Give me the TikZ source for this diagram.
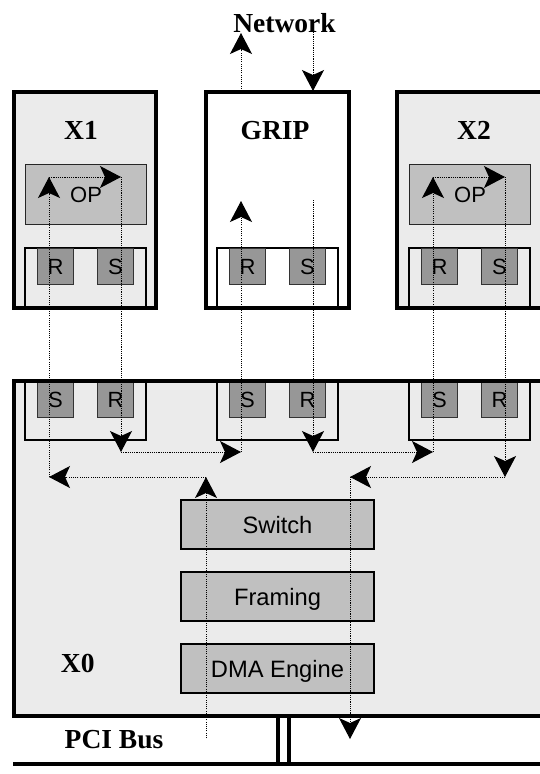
\documentclass[tikz,border=0pt]{standalone}
\usepackage{fontspec}
\setmainfont{Liberation Serif}
\newfontfamily\sansfont{Liberation Sans}
\usetikzlibrary{arrows.meta}

\definecolor{modfill}{HTML}{EBEBEB}
\definecolor{unitfill}{HTML}{C0C0C0}
\definecolor{portfill}{HTML}{979797}

\tikzset{
  module/.style={fill=#1, draw=none, inner sep=0pt, outer sep=0pt},
  modframe/.style={draw=black, line width=4pt},
  holder/.style={draw=black, line width=1.2pt},
  unit/.style={draw=black, line width=1.2pt, fill=unitfill, inner sep=0pt,
    minimum width=193pt, minimum height=49pt,
    font=\sansfont\fontsize{23.7}{24}\selectfont, text height=17pt, text depth=0pt},
  opbox/.style={draw=black!85, line width=1.2pt, fill=unitfill, inner sep=0pt,
    minimum width=121pt, minimum height=60pt, anchor=north west,
    font=\sansfont\fontsize{22}{22}\selectfont, text height=15.8pt, text depth=0pt},
  port/.style={draw=black!80, line width=1pt, fill=portfill, inner sep=0pt,
    minimum size=36pt, anchor=north west,
    font=\sansfont\fontsize{22}{22}\selectfont, text height=15.8pt, text depth=0pt},
  title/.style={font=\bfseries\fontsize{27.5}{28}\selectfont, inner sep=0pt, anchor=base},
  flowtip/.tip={Stealth[length=21pt 0 0, width=22pt 0 0, inset=5pt 0 0]},
  flow/.style={line width=1pt, dash pattern=on 1.1pt off 1.1pt, -flowtip},
  busline/.style={draw=black, line width=4pt},
}

\begin{document}
\begin{tikzpicture}[x=1pt,y=-1pt]
\useasboundingbox (0,0) rectangle (540,774);
\clip (0,0) rectangle (540,774);

% ---------- module bodies ----------
\node[module=modfill, minimum width=142pt, minimum height=216pt] (x1)   at (85,200) {};
\node[module=white,   minimum width=143pt, minimum height=216pt] (grip) at (277.5,200) {};
\node[module=modfill, minimum width=148pt, minimum height=216pt] (x2)   at (471,200) {};
\node[module=modfill, minimum width=548pt, minimum height=335pt] (x0)   at (288,548.5) {};

% ---------- port holders ----------
\foreach \hx in {25,217,409}{
  \draw[holder] (\hx,308) -- (\hx,248) -- (\hx+121,248) -- (\hx+121,308);
  \draw[holder] (\hx,381) -- (\hx,440) -- (\hx+121,440) -- (\hx+121,381);
}

% ---------- operator boxes ----------
\node[opbox] (op1) at (25,164) {OP};
\node[opbox] (op2) at (409,164) {OP};

% ---------- receive / send ports on the cards ----------
\node[port] (x1r) at (37,248)  {R};
\node[port] (x1s) at (97,248)  {S};
\node[port] (gr)  at (229,248) {R};
\node[port] (gs)  at (289,248) {S};
\node[port] (x2r) at (421,248) {R};
\node[port] (x2s) at (481,248) {S};

% ---------- ports on the base card ----------
\node[port] (a1s) at (37,381)  {S};
\node[port] (a1r) at (97,381)  {R};
\node[port] (a2s) at (229,381) {S};
\node[port] (a2r) at (289,381) {R};
\node[port] (a3s) at (421,381) {S};
\node[port] (a3r) at (481,381) {R};

% ---------- pipeline units ----------
\node[unit] (switch)  at (277.5,524.5) {Switch};
\node[unit] (framing) at (277.5,596.5) {Framing};
\node[unit] (dma)     at (277.5,668.5) {DMA Engine};

% ---------- module frames ----------
\draw[modframe] (x1.north west) rectangle (x1.south east);
\draw[modframe] (grip.north west) rectangle (grip.south east);
\draw[modframe] (x2.north west) rectangle (x2.south east);
\draw[modframe] (x0.north west) rectangle (x0.south east);

% ---------- PCI bus ----------
\coordinate (busL) at (13,764);
\coordinate (busR) at (550,764);
\coordinate (tapA) at (278,716);
\coordinate (tapB) at (289.3,716);
\draw[busline] (tapA) -- (tapA |- busL);
\draw[busline] (tapB) -- (tapB |- busL);
\draw[busline] (busL) -- (busR);

% ---------- titles ----------
\node[title] (tnet)  at (284.5,32) {Network};
\node[title] (tx1)   at (81,139)   {X1};
\node[title] (tgrip) at (275,139)  {GRIP};
\node[title] (tx2)   at (474,139)  {X2};
\node[title] (tx0)   at (77.7,672) {X0};
\node[title] (tpci)  at (114,748)  {PCI Bus};

% ---------- data path points ----------
\coordinate (netOut)  at (241,33);
\coordinate (gripTop) at (241,91);
\coordinate (netSrc)  at (313,32);
\coordinate (netIn)   at (313,91);
\coordinate (gSend)   at (313,200);
\coordinate (gRecv)   at (241,201);
\coordinate (j1) at (313,452);
\coordinate (j2) at (433,452);
\coordinate (x2in)  at (433,177);
\coordinate (x2out) at (505,177);
\coordinate (j3) at (505,477);
\coordinate (j4) at (350,477);
\coordinate (busIn)  at (350,739);
\coordinate (busOut) at (206,738);
\coordinate (j5) at (206,477);
\coordinate (j6) at (49,477);
\coordinate (x1in)  at (49,177);
\coordinate (x1out) at (121,177);
\coordinate (j7) at (121,452);
\coordinate (j8) at (241,452);

% ---------- data flow ----------
\draw[flow] (gripTop) -- (netOut);
\draw[flow] (netSrc) -- (netIn);
\draw[flow] (gSend) -- (j1);
\draw[flow] (j1) -- (j2);
\draw[flow] (j2) -- (x2in);
\draw[flow] (x2in) -- (x2out);
\draw[flow] (x2out) -- (j3);
\draw[flow] (j3) -- (j4);
\draw[flow] (j4) -- (busIn);
\draw[flow] (busOut) -- (j5);
\draw[flow] (j5) -- (j6);
\draw[flow] (j6) -- (x1in);
\draw[flow] (x1in) -- (x1out);
\draw[flow] (x1out) -- (j7);
\draw[flow] (j7) -- (j8);
\draw[flow] (j8) -- (gRecv);
\end{tikzpicture}
\end{document}
